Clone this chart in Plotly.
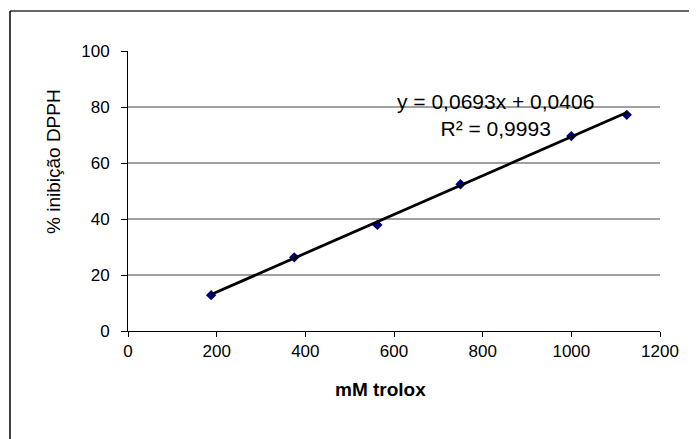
import plotly.graph_objects as go

# Data
trolox_mM = [187.5, 375, 562.5, 750, 1000, 1125]
inhibition_pct = [12.8, 26.3, 37.9, 52.4, 69.6, 77.2]

slope = 0.0693
intercept = 0.0406
r2 = 0.9993

x_ticks = [0, 200, 400, 600, 800, 1000, 1200]
y_ticks = [0, 20, 40, 60, 80, 100]
grid_vals = [20, 40, 60, 80]

trend_x = [min(trolox_mM), max(trolox_mM)]
trend_y = [slope * v + intercept for v in trend_x]

OFF = 8  # page body margin
W, H = 697 - OFF, 439 - OFF
L, T = 128 - OFF, 51 - OFF
pw, ph = 532, 280
R = W - L - pw
B = H - T - ph

def px_x(p):
    return (p - OFF - L) / pw

def px_y(p):
    return (T + ph - (p - OFF)) / ph

fig = go.Figure()
fig.add_trace(go.Scatter(
    x=trolox_mM, y=inhibition_pct, mode="markers",
    marker=dict(symbol="diamond", size=8, color="#000080"),
    showlegend=False, hoverinfo="x+y",
))
fig.add_trace(go.Scatter(
    x=trend_x, y=trend_y, mode="lines",
    line=dict(color="black", width=2.8),
    showlegend=False, hoverinfo="skip",
))

font = "Liberation Sans, Arial, sans-serif"

shapes = []
for g in grid_vals:
    shapes.append(dict(type="line", xref="paper", yref="y", x0=0, x1=1, y0=g, y1=g,
                       line=dict(color="#404040", width=1), layer="below"))
# outer chart border (top and left visible)
shapes.append(dict(type="line", xref="paper", yref="paper",
                   x0=px_x(10), x1=px_x(700), y0=px_y(11), y1=px_y(11),
                   line=dict(color="#333333", width=1.5)))
shapes.append(dict(type="line", xref="paper", yref="paper",
                   x0=px_x(10), x1=px_x(10), y0=px_y(11), y1=px_y(445),
                   line=dict(color="black", width=1.5)))

eq_text = f"y = {slope:.4f}x + {intercept:.4f}".replace(".", ",")
r2_text = f"R² = {r2:.4f}".replace(".", ",")

annotations = [
    dict(text=eq_text + "<br>" + r2_text, xref="paper", yref="paper",
         x=px_x(495), y=px_y(114.5), showarrow=False, xanchor="center", yanchor="middle",
         align="center", font=dict(family=font, size=21, color="black")),
    dict(text="<b>mM trolox</b>", xref="paper", yref="paper",
         x=px_x(380), y=px_y(389), showarrow=False, xanchor="center", yanchor="middle",
         font=dict(family=font, size=19, color="black")),
    dict(text="% inibição DPPH", xref="paper", yref="paper", textangle=-90,
         x=px_x(53), y=px_y(162), showarrow=False, xanchor="center", yanchor="middle",
         font=dict(family=font, size=19, color="black")),
]

fig.update_layout(
    width=W, height=H,
    margin=dict(l=L, r=R, t=T, b=B, pad=0),
    paper_bgcolor="white", plot_bgcolor="white",
    shapes=shapes, annotations=annotations,
    font=dict(family=font, color="black"),
    xaxis=dict(range=[0, 1200], tickvals=x_ticks, ticktext=[str(v) for v in x_ticks],
               showgrid=False, zeroline=False, showline=True, linecolor="black", linewidth=1,
               ticks="outside", ticklen=5, tickcolor="black", tickfont=dict(size=17, family=font),
               fixedrange=True),
    yaxis=dict(range=[0, 100], tickvals=y_ticks, ticktext=[str(v) for v in y_ticks],
               showgrid=False, zeroline=False, showline=True, linecolor="black", linewidth=1,
               ticks="outside", ticklen=6, tickcolor="black", tickfont=dict(size=17, family=font),
               ticklabelstandoff=8, fixedrange=True),
)

fig.write_html("out.html")
